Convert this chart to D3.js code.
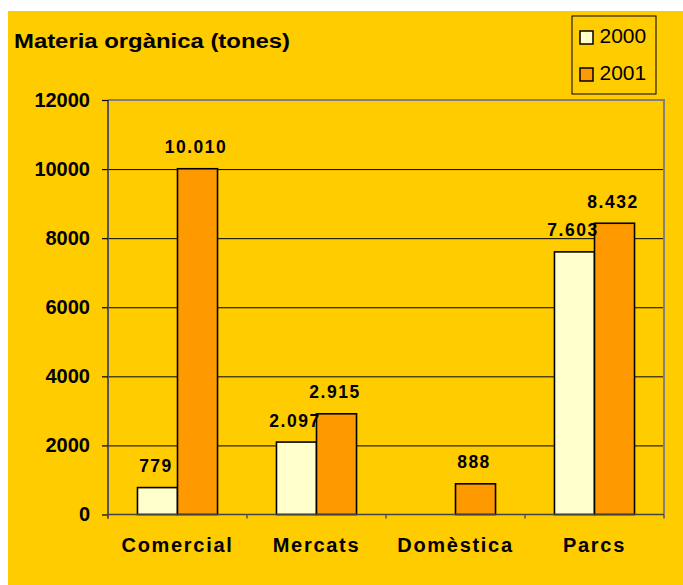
<!DOCTYPE html>
<html>
<head>
<meta charset="utf-8">
<script src="https://cdn.jsdelivr.net/npm/d3@7"></script>
<style>
  html, body { margin: 0; padding: 0; background: #ffffff; }
  svg { display: block; }
  text { font-family: "Liberation Sans", Arial, sans-serif; fill: #000; }
</style>
</head>
<body>
<svg id="chart" width="683" height="585"></svg>
<script>
// ---- data ----
const categories = ["Comercial", "Mercats", "Domèstica", "Parcs"];
const seriesNames = ["2000", "2001"];
const values2000 = [779, 2097, null, 7603];
const values2001 = [10010, 2915, 888, 8432];
const yTicks = [0, 2000, 4000, 6000, 8000, 10000, 12000];
const seriesColors = ["#FFFFCC", "#FF9900"];

const svg = d3.select("#chart");
const W = 683, H = 585;

// page background panel
svg.append("rect").attr("x", 8).attr("y", 11).attr("width", W - 8).attr("height", H - 11)
  .attr("fill", "#FFCC00");

const plot = { left: 108, right: 664, top: 100, bottom: 514.5 };
const plotW = plot.right - plot.left;

const x0 = d3.scaleBand().domain(categories).range([plot.left, plot.right]).padding(0);
const groupW = x0.bandwidth() * 0.576;
const x1 = d3.scaleBand().domain(seriesNames)
  .range([(x0.bandwidth() - groupW) / 2, (x0.bandwidth() + groupW) / 2]).padding(0);
const y = d3.scaleLinear().domain([0, 12000]).range([plot.bottom, plot.top]);

// gridlines
const grid = svg.append("g").attr("transform", `translate(${plot.left},0)`)
  .call(d3.axisLeft(y).tickValues(yTicks.filter(v => v > 0 && v < 12000)).tickSize(-plotW).tickFormat(""));
grid.select(".domain").remove();
grid.selectAll("line").attr("stroke", "#000").attr("stroke-width", 1);

// plot border (top & right)
svg.append("path")
  .attr("d", `M${plot.left},${plot.top}H${plot.right}V${plot.bottom}`)
  .attr("fill", "none").attr("stroke", "#808080").attr("stroke-width", 2);

// bars
const data = categories.map((c, i) => ({ cat: c, vals: [values2000[i], values2001[i]] }));
const fmt = d3.formatLocale({ decimal: ",", thousands: ".", grouping: [3], currency: ["", ""] }).format(",d");

const groups = svg.append("g").selectAll("g").data(data).join("g")
  .attr("transform", d => `translate(${x0(d.cat)},0)`);

groups.selectAll("rect")
  .data(d => d.vals.map((v, j) => ({ s: seriesNames[j], v, j })).filter(e => e.v != null))
  .join("rect")
  .attr("x", e => x1(e.s))
  .attr("y", e => y(e.v))
  .attr("width", x1.bandwidth())
  .attr("height", e => y(0) - y(e.v))
  .attr("fill", e => seriesColors[e.j])
  .attr("stroke", "#000").attr("stroke-width", 1.6);

groups.selectAll("text.val")
  .data(d => d.vals.map((v, j) => ({ s: seriesNames[j], v, j })).filter(e => e.v != null))
  .join("text").attr("class", "val")
  .attr("x", e => x1(e.s) + x1.bandwidth() / 2 - 1.5)
  .attr("y", e => y(e.v) - 15.5)
  .attr("text-anchor", "middle")
  .attr("font-size", 17.5).attr("font-weight", "bold")
  .attr("letter-spacing", 1.5)
  .text(e => fmt(e.v));

// y axis
const ya = svg.append("g").attr("transform", `translate(${plot.left},0)`)
  .call(d3.axisLeft(y).tickValues(yTicks).tickSize(6).tickPadding(12).tickFormat(d3.format("d")));
ya.select(".domain").attr("stroke", "#555").attr("stroke-width", 2)
  .attr("d", `M0,${plot.top}V${plot.bottom + 4}`);
ya.selectAll(".tick line").attr("stroke", "#000").attr("stroke-width", 1.2);
ya.selectAll("text").attr("font-size", 20).attr("font-weight", "bold")
  .attr("font-family", '"Liberation Sans", Arial, sans-serif').attr("fill", "#000");

// x axis: labels
const xa = svg.append("g").attr("transform", `translate(0,${plot.bottom})`)
  .call(d3.axisBottom(x0).tickSize(0).tickPadding(23));
xa.select(".domain").attr("stroke", "#444").attr("stroke-width", 1.6)
  .attr("d", `M${plot.left},0H${plot.right}`);
xa.selectAll("text").attr("font-size", 20).attr("font-weight", "bold")
  .attr("letter-spacing", 1.7)
  .attr("font-family", '"Liberation Sans", Arial, sans-serif').attr("fill", "#000");

// x axis: boundary ticks
const bounds = categories.map(c => x0(c)).concat([x0.range()[1]]);
svg.append("g").selectAll("line").data(bounds).join("line")
  .attr("x1", d => d).attr("x2", d => d)
  .attr("y1", plot.bottom).attr("y2", plot.bottom + 4)
  .attr("stroke", "#555").attr("stroke-width", 1.5);

// title
svg.append("text").attr("x", 14).attr("y", 47.5)
  .attr("font-size", 20).attr("font-weight", "bold")
  .attr("textLength", 276).attr("lengthAdjust", "spacingAndGlyphs")
  .text("Materia orgànica (tones)");

// legend
const lg = svg.append("g");
lg.append("rect").attr("x", 572).attr("y", 16).attr("width", 84).attr("height", 78)
  .attr("fill", "#FFCC00").attr("stroke", "#000").attr("stroke-width", 1);
const li = lg.selectAll("g.item").data(seriesNames).join("g").attr("class", "item")
  .attr("transform", (d, i) => `translate(0,${i * 37})`);
li.append("rect").attr("x", 580).attr("y", 31).attr("width", 13).attr("height", 13)
  .attr("fill", (d, i) => seriesColors[i]).attr("stroke", "#000").attr("stroke-width", 1.5);
li.append("text").attr("x", 599.5).attr("y", 42.5)
  .attr("font-size", 21).text(d => d);
</script>
</body>
</html>
